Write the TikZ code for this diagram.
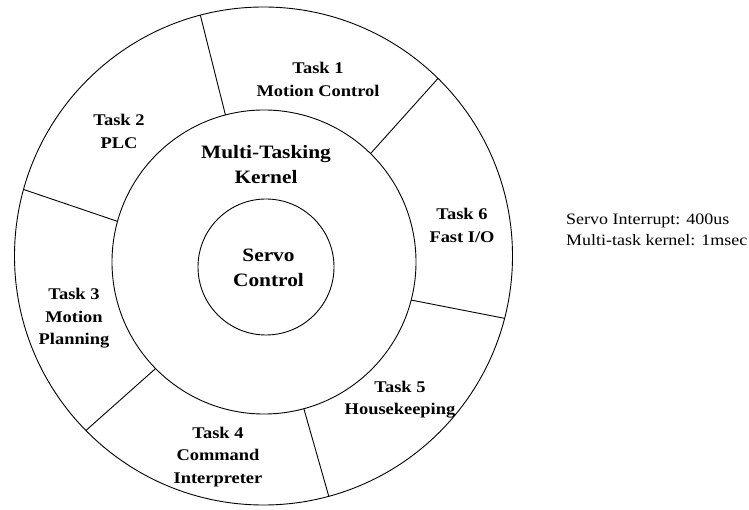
\documentclass[tikz,border=0pt]{standalone}
\usepackage{fontspec}
\setmainfont[FakeStretch=1.13]{Liberation Serif}
\usetikzlibrary{calc}

% centred multi-line label whose reference point is the first baseline
\newcommand\labelstack[1]{\vtop{\halign{\hfil##\hfil\cr#1\crcr}}}

\tikzset{
  ring/.style={draw=black, line width=0.9pt},
  divider/.style={draw=black, line width=0.9pt},
  tasklabel/.style={anchor=base, inner sep=0pt,
    font=\fontsize{16.3}{22.5}\selectfont\bfseries},
  corelabel/.style={anchor=base, inner sep=0pt,
    font=\fontsize{18.9}{24.5}\selectfont\bfseries},
  notelabel/.style={anchor=base west, inner sep=0pt,
    font=\fontsize{15.9}{21}\selectfont},
}

\begin{document}
\begin{tikzpicture}[x=1pt, y=1pt]
  \useasboundingbox (0,0) rectangle (749,509);

  % ring centres
  \coordinate (O) at (263.5,253);   % outer ring
  \coordinate (M) at (264,247);     % kernel ring
  \coordinate (C) at (266,242);     % servo core

  \draw[ring] (O) circle[radius=249];
  \draw[ring] (M) circle[radius=152];
  \draw[ring] (C) circle[radius=68];

  % sector dividers between the task slots
  \foreach \a/\n in {104.7/a, 45.5/b, -14.5/c, -74.8/d, -135.5/e, 164.5/f} {
    \coordinate (in\n) at ($(M)+(\a:152)$);
    \coordinate (out\n) at ($(O)+(\a:249)$);
    \draw[divider] (in\n) -- (out\n);
  }

  % task slots
  \node[tasklabel] (t1) at (318,435) {\labelstack{Task 1\cr Motion Control}};
  \node[tasklabel] (t2) at (119,383) {\labelstack{Task 2\cr PLC}};
  \node[tasklabel] (t6) at (462,289) {\labelstack{Task 6\cr Fast I/O}};
  \node[tasklabel] (t3) at (74,209)  {\labelstack{Task 3\cr Motion\cr Planning}};
  \node[tasklabel] (t5) at (400,117) {\labelstack{Task 5\cr Housekeeping}};
  \node[tasklabel] (t4) at (218,71)  {\labelstack{Task 4\cr Command\cr Interpreter}};

  % kernel and core
  \node[corelabel] (kern) at (266,350) {\labelstack{Multi-Tasking\cr Kernel}};
  \node[corelabel] (servo) at (268.5,247) {\labelstack{Servo\cr Control}};

  % timing note
  \node[notelabel] (note1) at (566,284) {Servo Interrupt: 400us};
  \node[notelabel] (note2) at (566,263) {Multi-task kernel: 1msec};
\end{tikzpicture}
\end{document}
